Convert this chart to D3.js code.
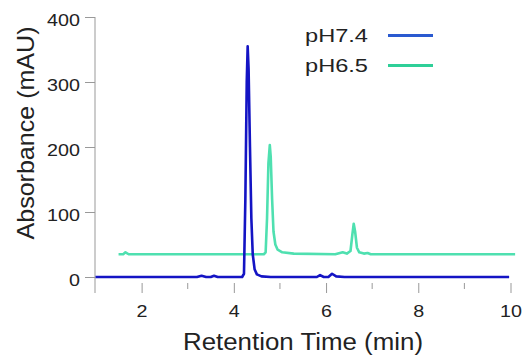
<!DOCTYPE html>
<html>
<head>
<meta charset="utf-8">
<script src="https://cdn.jsdelivr.net/npm/d3@7"></script>
<style>
  body { margin: 0; background: #fff; }
  text { font-family: "Liberation Sans", Arial, sans-serif; }
</style>
</head>
<body>
<div id="chart"></div>
<script>
// series names and colours
const seriesNames = ["pH7.4", "pH6.5"];
const lineColors = ["#1414c4", "#4fe0b0"];
const legendColors = ["#2a5ad0", "#2fcf98"];

// tick values
const xTicks = [2, 4, 6, 8, 10];
const xMinorTicks = [3, 5, 7, 9];
const yTicks = [0, 100, 200, 300, 400];

// pH 7.4 trace: [time (min), absorbance (mAU)]
const ph74 = [
  [1.0, 0], [2.8, 0], [3.2, 0], [3.3, 2], [3.4, 0], [3.5, 0], [3.57, 2], [3.65, 0],
  [4.18, 0], [4.22, 5], [4.25, 120], [4.28, 300], [4.30, 355], [4.32, 320],
  [4.35, 200], [4.38, 90], [4.41, 35], [4.45, 12], [4.5, 4], [4.6, 1], [4.8, 0],
  [5.3, 0], [5.8, 0], [5.87, 3], [5.95, 0], [6.05, 0], [6.13, 5], [6.22, 1],
  [6.4, 0], [9.97, 0]
];

// pH 6.5 trace
const ph65 = [
  [1.5, 35], [1.6, 35], [1.65, 38], [1.72, 35], [4.65, 35], [4.69, 38], [4.72, 90],
  [4.75, 175], [4.78, 203], [4.80, 185], [4.83, 120], [4.86, 70], [4.9, 50],
  [4.95, 42], [5.05, 38], [5.3, 36], [6.2, 35], [6.3, 37], [6.36, 38], [6.45, 36],
  [6.53, 40], [6.57, 65], [6.60, 82], [6.63, 70], [6.67, 45], [6.72, 38],
  [6.82, 36], [6.9, 37], [6.97, 35], [10.1, 35]
];

const width = 523, height = 356;
const stretch = 1.16; // the picture is a bit wider than tall

const svg = d3.select("#chart").append("svg")
  .attr("width", width)
  .attr("height", height);

const x = d3.scaleLinear().domain([1, 10]).range([95.5, 510.5]);
const y = d3.scaleLinear().domain([0, 400]).range([277, 17]);

// y axis
const yAxis = svg.append("g")
  .attr("transform", "translate(95,0)")
  .call(d3.axisLeft(y).tickValues(yTicks).tickSize(10).tickPadding(3));
yAxis.select(".domain").attr("stroke", "#999").attr("d", "M0,17V293");
yAxis.selectAll(".tick line").attr("stroke", "#999");
yAxis.selectAll(".tick text")
  .attr("font-size", 17)
  .attr("fill", "#222")
  .attr("y", 3)
  .attr("transform", `scale(${stretch},1)`);

// x axis
const xAxis = svg.append("g")
  .attr("transform", "translate(0,283)")
  .call(d3.axisBottom(x).tickValues(xTicks).tickSize(10).tickPadding(11.5));
xAxis.select(".domain").remove();
xAxis.selectAll(".tick line").attr("stroke", "#999");
xAxis.selectAll(".tick text")
  .attr("font-size", 17)
  .attr("fill", "#222")
  .attr("transform", `scale(${stretch},1)`);

svg.append("g").selectAll("line")
  .data(xMinorTicks)
  .join("line")
  .attr("x1", d => x(d)).attr("x2", d => x(d))
  .attr("y1", 283).attr("y2", 289)
  .attr("stroke", "#999");

// axis titles
svg.append("text")
  .attr("transform", "translate(34,133) rotate(-90)")
  .attr("text-anchor", "middle")
  .attr("font-size", 24)
  .attr("textLength", 213)
  .attr("lengthAdjust", "spacingAndGlyphs")
  .attr("fill", "#222")
  .text("Absorbance (mAU)");

svg.append("text")
  .attr("x", 303)
  .attr("y", 350)
  .attr("text-anchor", "middle")
  .attr("font-size", 23)
  .attr("textLength", 240)
  .attr("lengthAdjust", "spacingAndGlyphs")
  .attr("fill", "#222")
  .text("Retention Time (min)");

// traces
const line = d3.line().x(d => x(d[0])).y(d => y(d[1]));

svg.append("path")
  .datum(ph65)
  .attr("fill", "none")
  .attr("stroke", lineColors[1])
  .attr("stroke-width", 2.6)
  .attr("stroke-linejoin", "round")
  .attr("d", line);

svg.append("path")
  .datum(ph74)
  .attr("fill", "none")
  .attr("stroke", lineColors[0])
  .attr("stroke-width", 2.6)
  .attr("stroke-linejoin", "round")
  .attr("d", line);

// legend
const legend = svg.append("g");
seriesNames.forEach((name, i) => {
  legend.append("text")
    .attr("x", 305)
    .attr("y", 42 + i * 30)
    .attr("font-size", 19)
    .attr("textLength", 63)
    .attr("lengthAdjust", "spacingAndGlyphs")
    .attr("fill", "#222")
    .text(name);
  legend.append("line")
    .attr("x1", 388).attr("x2", 433)
    .attr("y1", 35.5 + i * 30).attr("y2", 35.5 + i * 30)
    .attr("stroke", legendColors[i])
    .attr("stroke-width", 3);
});
</script>
</body>
</html>
